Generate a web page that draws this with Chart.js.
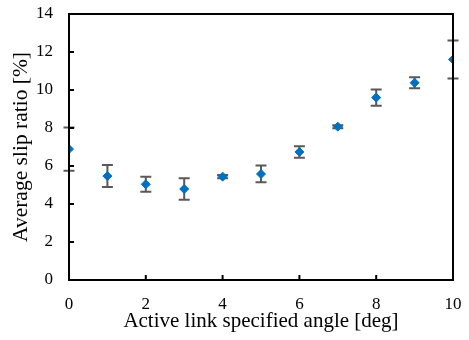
<!DOCTYPE html>
<html>
<head>
<meta charset="utf-8">
<script src="https://cdn.jsdelivr.net/npm/chart.js@4"></script>
<style>
  html, body { margin: 0; padding: 0; background: #fff; }
  #wrap { width: 469px; height: 340px; }
</style>
</head>
<body>
<div id="wrap"><canvas id="c" width="469" height="340"></canvas></div>
<script>
// angle [deg] vs average slip ratio [%] with error (+/-)
const angles = [0, 1, 2, 3, 4, 5, 6, 7, 8, 9, 10];
const slipRatio = [6.89, 5.47, 5.04, 4.79, 5.44, 5.58, 6.74, 8.07, 9.60, 10.38, 11.61];
const slipErr = [1.14, 0.58, 0.40, 0.57, 0.08, 0.44, 0.30, 0.08, 0.43, 0.29, 1.00];

const xTicks = [0, 2, 4, 6, 8, 10];
const yTicks = [0, 2, 4, 6, 8, 10, 12, 14];

const serif = "'Liberation Serif', 'Times New Roman', serif";

// error bars under the markers
const errorBars = {
  id: "errorBars",
  beforeDatasetsDraw(chart) {
    const { ctx, scales: { x, y } } = chart;
    ctx.save();
    ctx.strokeStyle = "#595959";
    ctx.lineWidth = 2;
    angles.forEach((a, i) => {
      const px = x.getPixelForValue(a);
      const top = y.getPixelForValue(slipRatio[i] + slipErr[i]);
      const bot = y.getPixelForValue(slipRatio[i] - slipErr[i]);
      ctx.beginPath();
      ctx.moveTo(px, top); ctx.lineTo(px, bot);
      ctx.moveTo(px - 5.5, top); ctx.lineTo(px + 5.5, top);
      ctx.moveTo(px - 5.5, bot); ctx.lineTo(px + 5.5, bot);
      ctx.stroke();
    });
    ctx.restore();
  },
};

// box frame + inward tick marks
const frame = {
  id: "frame",
  afterDraw(chart) {
    const { ctx, chartArea: a, scales: { x, y } } = chart;
    ctx.save();
    ctx.strokeStyle = "#000";
    ctx.lineWidth = 2;
    ctx.strokeRect(a.left, a.top, a.right - a.left, a.bottom - a.top);
    ctx.beginPath();
    xTicks.forEach(v => {
      const px = x.getPixelForValue(v);
      ctx.moveTo(px, a.bottom); ctx.lineTo(px, a.bottom - 5);
    });
    yTicks.forEach(v => {
      const py = y.getPixelForValue(v);
      ctx.moveTo(a.left, py); ctx.lineTo(a.left + 5, py);
    });
    ctx.stroke();
    ctx.restore();
  },
};

new Chart(document.getElementById("c").getContext("2d"), {
  type: "scatter",
  data: {
    datasets: [{
      data: angles.map((a, i) => ({ x: a, y: slipRatio[i] })),
      pointStyle: "rectRot",
      pointRadius: 4.5,
      pointBorderWidth: 1,
      backgroundColor: "#0070C0",
      borderColor: "#0070C0",
    }],
  },
  options: {
    responsive: false,
    animation: false,
    layout: { padding: { top: 14, right: 16, left: 0, bottom: 0 } },
    plugins: { legend: { display: false }, tooltip: { enabled: false } },
    scales: {
      x: {
        type: "linear", min: 0, max: 10,
        afterBuildTicks: s => { s.ticks = xTicks.map(v => ({ value: v })); },
        afterFit: s => { s.height = 60; s.paddingLeft = 0; s.paddingRight = 0; },
        grid: { display: false, drawTicks: false },
        border: { display: false },
        ticks: { color: "#000", padding: 14, font: { family: serif, size: 17 } },
        title: {
          display: true, text: "Active link specified angle [deg]", color: "#000",
          font: { family: serif, size: 21 }, padding: { top: 0, bottom: 6 },
        },
      },
      y: {
        type: "linear", min: 0, max: 14,
        afterBuildTicks: s => { s.ticks = yTicks.map(v => ({ value: v })); },
        afterFit: s => { s.width = 69; s.paddingTop = 0; s.paddingBottom = 0; },
        grid: { display: false, drawTicks: false },
        border: { display: false },
        ticks: { color: "#000", padding: 16, font: { family: serif, size: 17 } },
        title: {
          display: true, text: "Average slip ratio [%]", color: "#000",
          font: { family: serif, size: 21.5 }, padding: { top: 8, bottom: 0 },
        },
      },
    },
  },
  plugins: [errorBars, frame],
});
</script>
</body>
</html>
